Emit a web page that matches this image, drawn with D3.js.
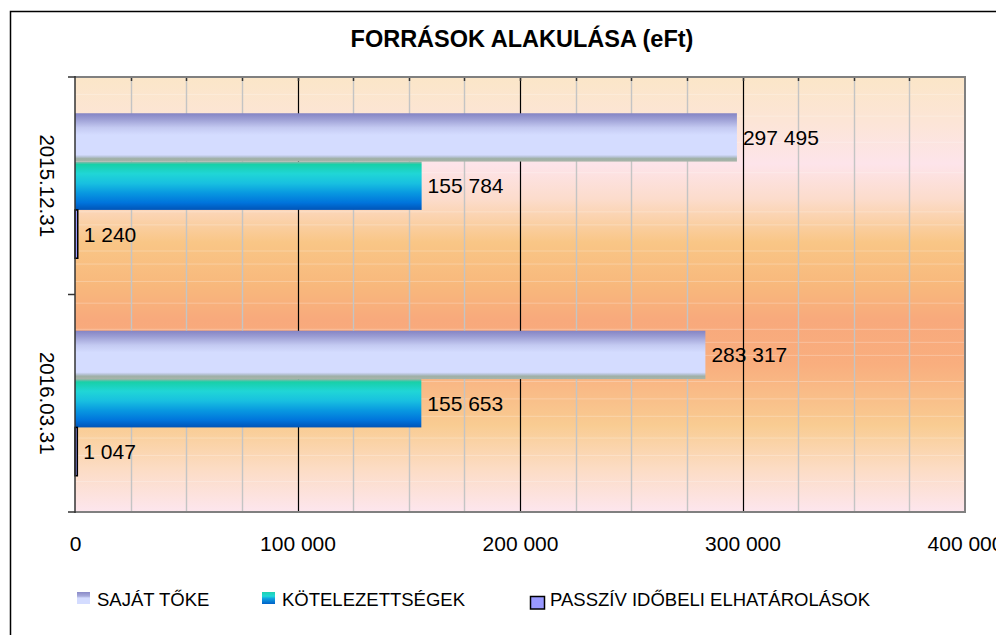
<!DOCTYPE html>
<html><head><meta charset="utf-8">
<script src="https://cdn.jsdelivr.net/npm/d3@7"></script>
<style>
html,body{margin:0;padding:0;background:#fff;overflow:hidden}
text{font-family:"Liberation Sans",Arial,sans-serif;fill:#000}
</style></head>
<body><svg id="c" width="996" height="635"></svg>
<script>
const title = "FORRÁSOK ALAKULÁSA (eFt)";
const categories = ["2015.12.31", "2016.03.31"];
const seriesNames = ["SAJÁT TŐKE", "KÖTELEZETTSÉGEK", "PASSZÍV IDŐBELI ELHATÁROLÁSOK"];
const sajatToke = [297495, 283317];
const kotelezettsegek = [155784, 155653];
const passziv = [1240, 1047];
const xTicks = [0, 100000, 200000, 300000, 400000];

const seriesValues = [sajatToke, kotelezettsegek, passziv];
const svg = d3.select("#c");
const L = 75, R = 965, T = 77, B = 512;

const defs = svg.append("defs");
function grad(id, stops) {
  const g = defs.append("linearGradient").attr("id", id)
    .attr("x1", 0).attr("y1", 0).attr("x2", 0).attr("y2", 1);
  stops.forEach(s => g.append("stop").attr("offset", s[0]).attr("stop-color", s[1]));
}
grad("bg", [[0, "#fbe6c8"], [0.1, "#fce5d6"], [0.2, "#fde4ea"], [0.28, "#fcdccc"], [0.38, "#f9c686"],
  [0.48, "#f8b87c"], [0.56, "#f8a97c"], [0.66, "#f9ae7e"], [0.8, "#f9cc92"], [0.9, "#fcdcc4"], [1, "#fde6ee"]]);
grad("g0", [[0, "#8484c4"], [0.12, "#9c9ed4"], [0.3, "#c4caf2"], [0.45, "#d4dcff"], [0.86, "#d4dcff"], [0.9, "#b8c4d8"], [0.94, "#9fb0a6"], [1, "#a8b4aa"]]);
grad("g1", [[0, "#96b4a8"], [0.06, "#18d0a8"], [0.25, "#20d6d6"], [0.45, "#18c0e0"], [0.65, "#0898e0"], [0.85, "#0074dc"], [1, "#0054b8"]]);
grad("lg0", [[0, "#8a8ac8"], [0.35, "#a8acdc"], [0.5, "#d4dcff"], [1, "#d4dcff"]]);
grad("lg1", [[0, "#20d0b0"], [0.35, "#20d8d8"], [0.55, "#10a0e0"], [1, "#0060c8"]]);
const fills = ["url(#g0)", "url(#g1)", "#9999ff"];

// outer border
svg.append("rect").attr("x", 10.5).attr("y", 11.5).attr("width", 1000).attr("height", 700)
  .attr("fill", "#fff").attr("stroke", "#000").attr("stroke-width", 1.5);

// title
svg.append("text").attr("x", 522).attr("y", 47).attr("text-anchor", "middle")
  .style("font-size", "23.5px").style("font-weight", "bold").text(title);

const x = d3.scaleLinear().domain([0, 400000]).range([L, R]);
const y = d3.scaleBand().domain(categories).range([T, B]).paddingInner(0).paddingOuter(0);
const ys = d3.scaleBand().domain(d3.range(seriesNames.length)).range([0, y.bandwidth()])
  .paddingInner(0).paddingOuter(0.75);

// background
svg.append("rect").attr("x", L).attr("y", T).attr("width", R - L).attr("height", B - T).attr("fill", "url(#bg)");
const streaks = [0.04,0.09,0.15,0.22,0.31,0.34,0.4,0.43,0.47,0.52,0.58,0.61,0.64,0.7,0.74,0.78,0.83,0.87,0.93];
svg.append("g").selectAll("line").data(streaks).join("line")
  .attr("x1", L).attr("x2", R).attr("y1", d => T + d * (B - T)).attr("y2", d => T + d * (B - T))
  .attr("stroke", "#fff").attr("stroke-opacity", 0.25).attr("stroke-width", 1);

// gridlines
const gridVals = d3.range(0, 400001, 25000).filter(v => v > 0 && v < 400000);
svg.append("g").selectAll("line").data(gridVals).join("line")
  .attr("x1", d => Math.round(x(d)) + 0.5).attr("x2", d => Math.round(x(d)) + 0.5)
  .attr("y1", T).attr("y2", B)
  .attr("stroke", d => d % 100000 === 0 ? "#000" : "#c4c4c4")
  .attr("stroke-width", d => d % 100000 === 0 ? 1.2 : 1.4);
svg.append("g").selectAll("line").data(gridVals).join("line")
  .attr("x1", d => Math.round(x(d)) + 0.5).attr("x2", d => Math.round(x(d)) + 0.5)
  .attr("y1", T).attr("y2", T + 4).attr("stroke", "#333").attr("stroke-width", 1.5);

// bars
const groups = svg.append("g").selectAll("g").data(categories).join("g")
  .attr("transform", d => `translate(0,${y(d)})`);
groups.each(function (cat, ci) {
  const g = d3.select(this);
  seriesValues.forEach((vals, si) => {
    const v = vals[ci];
    g.append("rect").attr("x", x(0)).attr("y", ys(si))
      .attr("width", x(v) - x(0)).attr("height", ys.bandwidth())
      .attr("fill", fills[si])
      .attr("stroke", si === 2 ? "#000" : "none").attr("stroke-width", 1.5);
    g.append("text").attr("x", x(v) + 6).attr("y", ys(si) + ys.bandwidth() / 2)
      .attr("dominant-baseline", "central").style("font-size", "21px")
      .text(d3.format(",")(v).replace(/,/g, " "));
  });
});

// plot frame
svg.append("path").attr("d", `M${L},${T}H${R}V${B}H${L}`).attr("fill", "none")
  .attr("stroke", "#808080").attr("stroke-width", 2);
svg.append("line").attr("x1", L).attr("x2", L).attr("y1", T - 1).attr("y2", B + 1)
  .attr("stroke", "#333").attr("stroke-width", 1.5);
const catTicks = [T, y(categories[1]), B];
svg.append("g").selectAll("line").data(catTicks).join("line")
  .attr("x1", 68).attr("x2", L).attr("y1", d => d).attr("y2", d => d)
  .attr("stroke", "#333").attr("stroke-width", 1.5);

// category labels
svg.append("g").selectAll("text").data(categories).join("text")
  .attr("transform", d => `translate(47,${y(d) + y.bandwidth() / 2}) rotate(90)`)
  .attr("text-anchor", "middle").attr("dominant-baseline", "central")
  .style("font-size", "20.5px").text(d => d);

// x axis labels
const xAxis = d3.axisBottom(x).tickValues(xTicks).tickSize(0).tickPadding(24)
  .tickFormat(v => d3.format(",")(v).replace(/,/g, " "));
const ax = svg.append("g").attr("transform", `translate(0,${B})`).call(xAxis);
ax.select(".domain").remove();
ax.selectAll("text").style("font-size", "21px").style("font-family", '"Liberation Sans",Arial,sans-serif').attr("fill", "#000");

// legend
const legend = [
  { x: 77, y: 592, w: 13, h: 12, fill: "url(#lg0)", stroke: "none", tx: 97 },
  { x: 262, y: 592, w: 13, h: 12, fill: "url(#lg1)", stroke: "none", tx: 282 },
  { x: 530.5, y: 596.5, w: 14, h: 12.5, fill: "#9999ff", stroke: "#000", tx: 550 }
];
const lg = svg.append("g").selectAll("g").data(seriesNames).join("g");
lg.append("rect").attr("x", (d, i) => legend[i].x).attr("y", (d, i) => legend[i].y)
  .attr("width", (d, i) => legend[i].w).attr("height", (d, i) => legend[i].h)
  .attr("fill", (d, i) => legend[i].fill).attr("stroke", (d, i) => legend[i].stroke).attr("stroke-width", 1.5);
lg.append("text").attr("x", (d, i) => legend[i].tx).attr("y", 606)
  .style("font-size", "18.5px").text(d => d);
</script></body></html>
